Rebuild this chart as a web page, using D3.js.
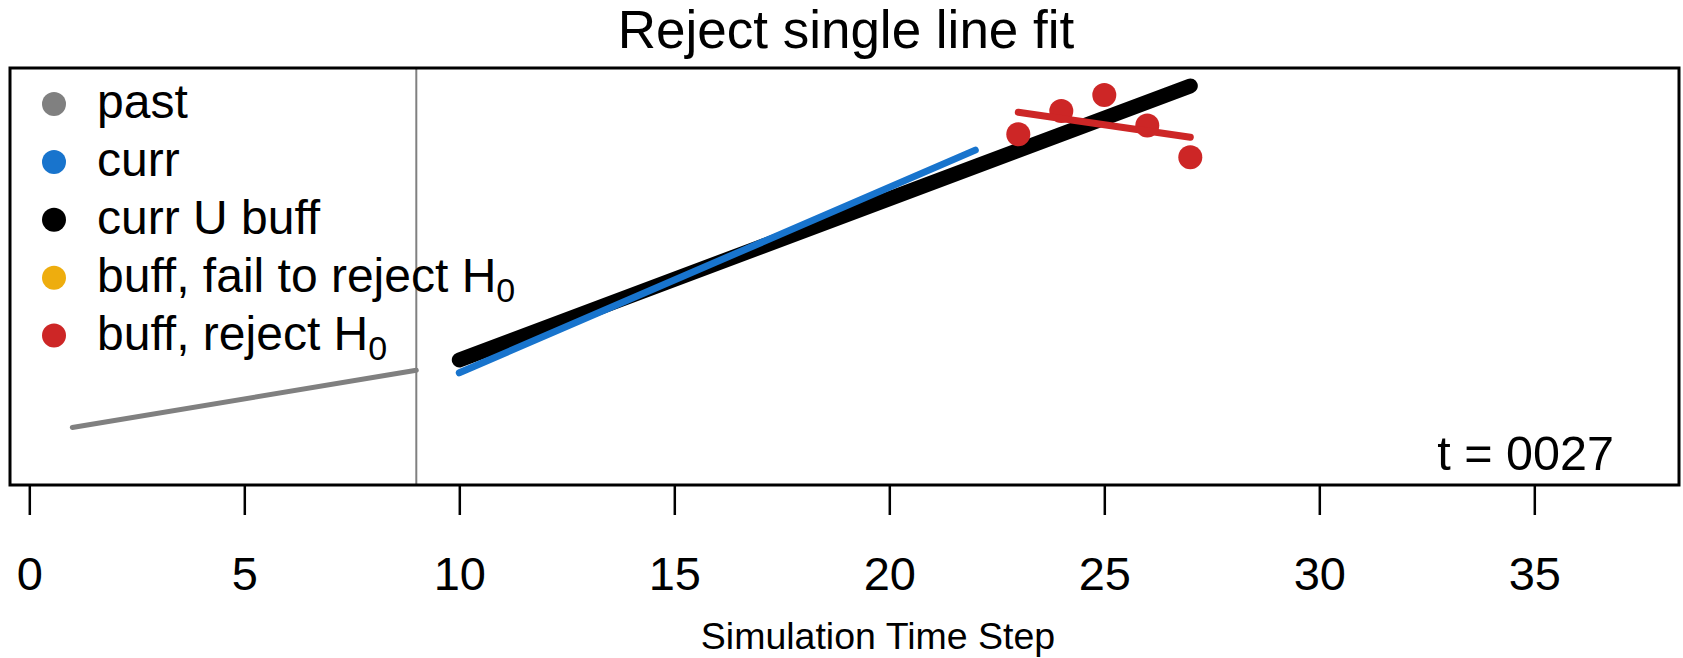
<!DOCTYPE html>
<html>
<head>
<meta charset="utf-8">
<script src="https://cdn.jsdelivr.net/npm/d3@7"></script>
<style>
  html, body { margin: 0; padding: 0; background: #fff; }
  text { font-family: "Liberation Sans", Arial, Helvetica, sans-serif; }
</style>
</head>
<body>
<svg id="chart" width="1683" height="658"></svg>
<script>
// ---- data (y in arbitrary plot units 0..100) ----
const titleText = "Reject single line fit";
const xLabel = "Simulation Time Step";
const xTicks = [0, 5, 10, 15, 20, 25, 30, 35];
const cutoffStep = 9;
const stampText = "t = 0027";

const pastLine = [[1, 13.8], [9, 27.5]];
const currLine = [[10, 26.9], [22, 80.3]];
const currBuffLine = [[10, 30.0], [27, 95.7]];
const buffSteps = [23, 24, 25, 26, 27];
const buffValues = [84.1, 89.7, 93.5, 86.2, 78.6];
const buffFitLine = [[23, 89.4], [27, 83.4]];

const legendLabels = ["past", "curr", "curr U buff", "buff, fail to reject H", "buff, reject H"];
const legendSubs = ["", "", "", "0", "0"];
const legendColors = ["#808080", "#1874CD", "#000000", "#EEAD0E", "#CD2626"];

// ---- layout ----
const box = { left: 10, right: 1679, top: 68, bottom: 485 };

const svg = d3.select("#chart");

const x = d3.scaleLinear().domain([0, 35]).range([29.3, 1534.3]);
const y = d3.scaleLinear().domain([0, 100]).range([box.bottom, box.top]);

const line = d3.line().x(d => x(d[0])).y(d => y(d[1]));

svg.append("clipPath").attr("id", "clip")
  .append("rect").attr("x", box.left).attr("y", box.top)
  .attr("width", box.right - box.left).attr("height", box.bottom - box.top);

const g = svg.append("g").attr("clip-path", "url(#clip)");

// vertical cutoff line
g.append("line")
  .attr("x1", x(cutoffStep)).attr("x2", x(cutoffStep))
  .attr("y1", box.top).attr("y2", box.bottom)
  .attr("stroke", "#808080").attr("stroke-width", 2);

// past fit
g.append("path").datum(pastLine).attr("d", line)
  .attr("fill", "none").attr("stroke", "#808080")
  .attr("stroke-width", 5).attr("stroke-linecap", "round");

// curr U buff fit
g.append("path").datum(currBuffLine).attr("d", line)
  .attr("fill", "none").attr("stroke", "#000000")
  .attr("stroke-width", 15).attr("stroke-linecap", "round");

// curr fit
g.append("path").datum(currLine).attr("d", line)
  .attr("fill", "none").attr("stroke", "#1874CD")
  .attr("stroke-width", 7).attr("stroke-linecap", "round");

// buff points
g.selectAll("circle.buff").data(buffSteps.map((s, i) => [s, buffValues[i]]))
  .join("circle").attr("class", "buff")
  .attr("cx", d => x(d[0])).attr("cy", d => y(d[1])).attr("r", 12)
  .attr("fill", "#CD2626");

// buff fit
g.append("path").datum(buffFitLine).attr("d", line)
  .attr("fill", "none").attr("stroke", "#CD2626")
  .attr("stroke-width", 7).attr("stroke-linecap", "round");

// plot box
svg.append("rect")
  .attr("x", box.left).attr("y", box.top)
  .attr("width", box.right - box.left).attr("height", box.bottom - box.top)
  .attr("fill", "none").attr("stroke", "#000").attr("stroke-width", 3);

// x axis
const axis = d3.axisBottom(x).tickValues(xTicks).tickSize(30).tickPadding(42)
  .tickFormat(d3.format("d"));
const ax = svg.append("g").attr("transform", `translate(0,${box.bottom})`).call(axis);
ax.select(".domain").remove();
ax.selectAll(".tick line").attr("stroke", "#000").attr("stroke-width", 2.5);
ax.selectAll(".tick text").attr("font-size", 47).attr("fill", "#000")
  .attr("font-family", "Liberation Sans, Arial, sans-serif");

// title
svg.append("text").attr("x", 846).attr("y", 48)
  .attr("text-anchor", "middle").attr("font-size", 53).attr("fill", "#000")
  .text(titleText);

// x label
svg.append("text").attr("x", 878).attr("y", 649)
  .attr("text-anchor", "middle").attr("font-size", 37.5).attr("fill", "#000")
  .text(xLabel);

// time stamp
svg.append("text").attr("x", 1614).attr("y", 470)
  .attr("text-anchor", "end").attr("font-size", 48.5).attr("fill", "#000")
  .text(stampText);

// legend
const leg = svg.append("g");
legendLabels.forEach((lab, i) => {
  const cy = 104 + i * 57.9;
  leg.append("circle").attr("cx", 54).attr("cy", cy).attr("r", 12)
    .attr("fill", legendColors[i]);
  const t = leg.append("text").attr("x", 97).attr("y", cy + 14)
    .attr("font-size", 48).attr("fill", "#000").text(lab);
  if (legendSubs[i]) {
    t.append("tspan").attr("dy", 10).attr("font-size", 34).text(legendSubs[i]);
  }
});
</script>
</body>
</html>
